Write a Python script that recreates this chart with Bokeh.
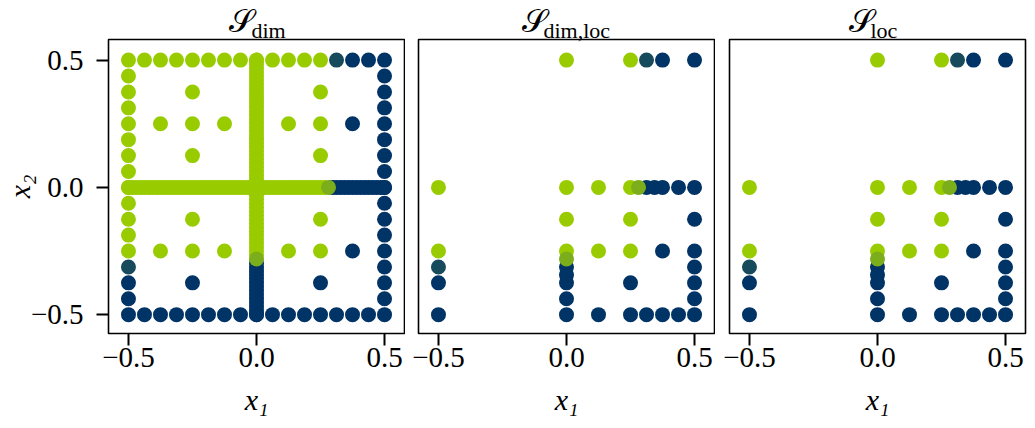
from bokeh.plotting import figure
from bokeh.layouts import row
from bokeh.models import Range1d, FixedTicker, Title, ColumnDataSource
from bokeh.embed import file_html
from bokeh.resources import INLINE

GREEN = "#99cc00"
BLUE = "#003366"
TEAL = "#174b5b"
OLIVE = "#7cad1b"

# ---------------- Panel 1: S_dim ----------------
dim_green_x = [-0.5, -0.4375, -0.375, -0.3125, -0.25, -0.1875, -0.125, -0.0625, 0.0, 0.0625, 0.125, 0.1875, 0.25,
               -0.5, -0.5, -0.5, -0.5, -0.5, -0.5, -0.5, -0.5, -0.5, -0.5, -0.5, -0.5,
               -0.25, -0.375, -0.25, -0.125, -0.25, 0.25, 0.125, 0.25, 0.25,
               -0.25, -0.375, -0.25, -0.125, 0.25, 0.125, 0.25]
dim_green_y = [0.5, 0.5, 0.5, 0.5, 0.5, 0.5, 0.5, 0.5, 0.5, 0.5, 0.5, 0.5, 0.5,
               0.4375, 0.375, 0.3125, 0.25, 0.1875, 0.125, 0.0625, 0.0, -0.0625, -0.125, -0.1875, -0.25,
               0.375, 0.25, 0.25, 0.25, 0.125, 0.375, 0.25, 0.25, 0.125,
               -0.125, -0.25, -0.25, -0.25, -0.125, -0.25, -0.25]

dim_blue_x = [0.375, 0.4375, 0.5,
              0.5, 0.5, 0.5, 0.5, 0.5, 0.5, 0.5, 0.5, 0.5, 0.5, 0.5, 0.5, 0.5, 0.5, 0.5,
              -0.5, -0.4375, -0.375, -0.3125, -0.25, -0.1875, -0.125, -0.0625, 0.0, 0.0625, 0.125, 0.1875,
              0.25, 0.3125, 0.375, 0.4375, 0.5,
              -0.5, -0.5,
              0.375, 0.375, -0.25, 0.25]
dim_blue_y = [0.5, 0.5, 0.5,
              0.4375, 0.375, 0.3125, 0.25, 0.1875, 0.125, 0.0625, 0.0, -0.0625, -0.125, -0.1875, -0.25,
              -0.3125, -0.375, -0.4375,
              -0.5, -0.5, -0.5, -0.5, -0.5, -0.5, -0.5, -0.5, -0.5, -0.5, -0.5, -0.5,
              -0.5, -0.5, -0.5, -0.5, -0.5,
              -0.375, -0.4375,
              0.25, -0.25, -0.375, -0.375]

# dense cross, positions in units of 1/64
dim_cross_green_v = [32, 31, 30, 29, 28, 27, 26, 25, 24, 23, 22, 21, 20, 19, 18, 17, 16, 15, 14, 13, 12, 11, 10,
                     9, 8, 7, 6, 5, 4, 3, 2, 1, 0, -1, -2, -3, -4, -5, -6, -7, -8, -9, -10, -11, -12, -13, -14,
                     -15, -16, -17]
dim_cross_blue_v = [-19, -20, -21, -22, -23, -24, -25, -26, -27, -28, -29, -30, -31, -32]
dim_cross_green_h = [-32, -31, -30, -29, -28, -27, -26, -25, -24, -23, -22, -21, -20, -19, -18, -17, -16, -15,
                     -14, -13, -12, -11, -10, -9, -8, -7, -6, -5, -4, -3, -2, -1, 0, 1, 2, 3, 4, 5, 6, 7, 8, 9,
                     10, 11, 12, 13, 14, 15, 16, 17]
dim_cross_blue_h = [19, 20, 21, 22, 23, 24, 25, 26, 27, 28, 29, 30, 31, 32]

dim_teal_x = [0.3125, -0.5]
dim_teal_y = [0.5, -0.3125]
dim_olive_x = [0.28125, 0.0]
dim_olive_y = [0.0, -0.28125]

# ---------------- Panel 2: S_dim,loc  and Panel 3: S_loc ----------------
loc_green_x = [0.0, 0.25, -0.5, 0.0, 0.125, 0.25, 0.0, 0.25, -0.5, 0.0, 0.125, 0.25]
loc_green_y = [0.5, 0.5, 0.0, 0.0, 0.0, 0.0, -0.125, -0.125, -0.25, -0.25, -0.25, -0.25]
loc_blue_x = [0.375, 0.5, 0.3125, 0.34375, 0.375, 0.4375, 0.5, 0.5, 0.375, 0.5, 0.0, 0.5, 0.0,
              -0.5, 0.0, 0.25, 0.5, 0.0, 0.5,
              -0.5, 0.0, 0.125, 0.25, 0.3125, 0.375, 0.4375, 0.5]
loc_blue_y = [0.5, 0.5, 0.0, 0.0, 0.0, 0.0, 0.0, -0.125, -0.25, -0.25, -0.3125, -0.3125, -0.34375,
              -0.375, -0.375, -0.375, -0.375, -0.4375, -0.4375,
              -0.5, -0.5, -0.5, -0.5, -0.5, -0.5, -0.5, -0.5]
loc_teal_x = [0.3125, -0.5]
loc_teal_y = [0.5, -0.3125]
loc_olive_x = [0.28125, 0.0]
loc_olive_y = [0.0, -0.28125]

title_main = "\U0001D4AE"
title_subs = ["dim", "dim,loc", "loc"]
tick_values = [-0.5, 0.0, 0.5]
tick_labels = ["\u22120.5", "0.0", "0.5"]
x_label = "x\u2081"
y_label = "x\u2082"

SERIF = "Liberation Serif"
MSIZE = 15
FW, FH = 296, 294


def make_fig(left, right, show_y):
    p = figure(frame_width=FW, frame_height=FH,
               x_range=Range1d(-0.578, 0.578), y_range=Range1d(-0.574, 0.581),
               output_backend="svg", toolbar_location=None,
               min_border_left=left, min_border_right=right,
               min_border_top=39, min_border_bottom=95,
               y_axis_location="left" if show_y else None)
    p.grid.visible = False
    p.outline_line_color = "black"
    p.outline_line_width = 1.6
    p.background_fill_color = "white"
    p.border_fill_color = "white"
    axes = [p.xaxis[0]] + ([p.yaxis[0]] if show_y else [])
    for ax in axes:
        ax.ticker = FixedTicker(ticks=tick_values)
        ax.major_label_overrides = {v: s for v, s in zip(tick_values, tick_labels)}
        ax.axis_line_color = None
        ax.major_tick_out = 12
        ax.major_tick_in = 0
        ax.major_tick_line_width = 2
        ax.minor_tick_out = 0
        ax.minor_tick_in = 0
        ax.major_label_text_font = SERIF
        ax.major_label_text_font_size = "29px"
        ax.major_label_text_color = "black"
        ax.axis_label_text_font = SERIF
        ax.axis_label_text_font_style = "italic"
        ax.axis_label_text_font_size = "30px"
        ax.axis_label_text_color = "black"
    p.xaxis[0].major_label_standoff = 2
    p.xaxis[0].axis_label = x_label
    p.xaxis[0].axis_label_standoff = 13
    if show_y:
        p.yaxis[0].major_label_standoff = 13
        yt = Title(text=y_label, align="center", vertical_align="bottom", standoff=-16,
                   text_font=SERIF, text_font_style="italic", text_font_size="30px",
                   text_color="black")
        p.add_layout(yt, "left")
    return p


def dots(p, xs, ys, color):
    src = ColumnDataSource(dict(x=xs, y=ys))
    p.scatter("x", "y", source=src, size=MSIZE, fill_color=color, line_color=None)


def add_title(p, main_off, sub, sub_off):
    t_sub = Title(text=sub, align="left", offset=sub_off, vertical_align="top", standoff=-11,
                  text_font=SERIF, text_font_size="22px", text_font_style="normal",
                  text_color="black")
    t_main = Title(text=title_main, align="left", offset=main_off, vertical_align="bottom", standoff=-32,
                   text_font="DejaVu Serif", text_font_size="32px", text_font_style="normal",
                   text_color="black")
    p.add_layout(t_sub, "above")
    p.add_layout(t_main, "above")


# Panel 1
p1 = make_fig(108, 1, True)
dots(p1, dim_blue_x, dim_blue_y, BLUE)
dots(p1, [0.0] * len(dim_cross_blue_v), [v / 64 for v in dim_cross_blue_v], BLUE)
dots(p1, [v / 64 for v in dim_cross_blue_h], [0.0] * len(dim_cross_blue_h), BLUE)
dots(p1, dim_green_x, dim_green_y, GREEN)
dots(p1, [0.0] * len(dim_cross_green_v), [v / 64 for v in dim_cross_green_v], GREEN)
dots(p1, [v / 64 for v in dim_cross_green_h], [0.0] * len(dim_cross_green_h), GREEN)
dots(p1, dim_teal_x, dim_teal_y, TEAL)
dots(p1, dim_olive_x, dim_olive_y, OLIVE)
add_title(p1, 120, title_subs[0], 143)

# Panel 2
p2 = make_fig(13, 1, False)
dots(p2, loc_blue_x, loc_blue_y, BLUE)
dots(p2, loc_green_x, loc_green_y, GREEN)
dots(p2, loc_teal_x, loc_teal_y, TEAL)
dots(p2, loc_olive_x, loc_olive_y, OLIVE)
add_title(p2, 103, title_subs[1], 125)

# Panel 3
p3 = make_fig(14, 10, False)
dots(p3, loc_blue_x, loc_blue_y, BLUE)
dots(p3, loc_green_x, loc_green_y, GREEN)
dots(p3, loc_teal_x, loc_teal_y, TEAL)
dots(p3, loc_olive_x, loc_olive_y, OLIVE)
add_title(p3, 119, title_subs[2], 141)

layout = row(p1, p2, p3, spacing=0)
open("out.html", "w").write(file_html(layout, INLINE))
